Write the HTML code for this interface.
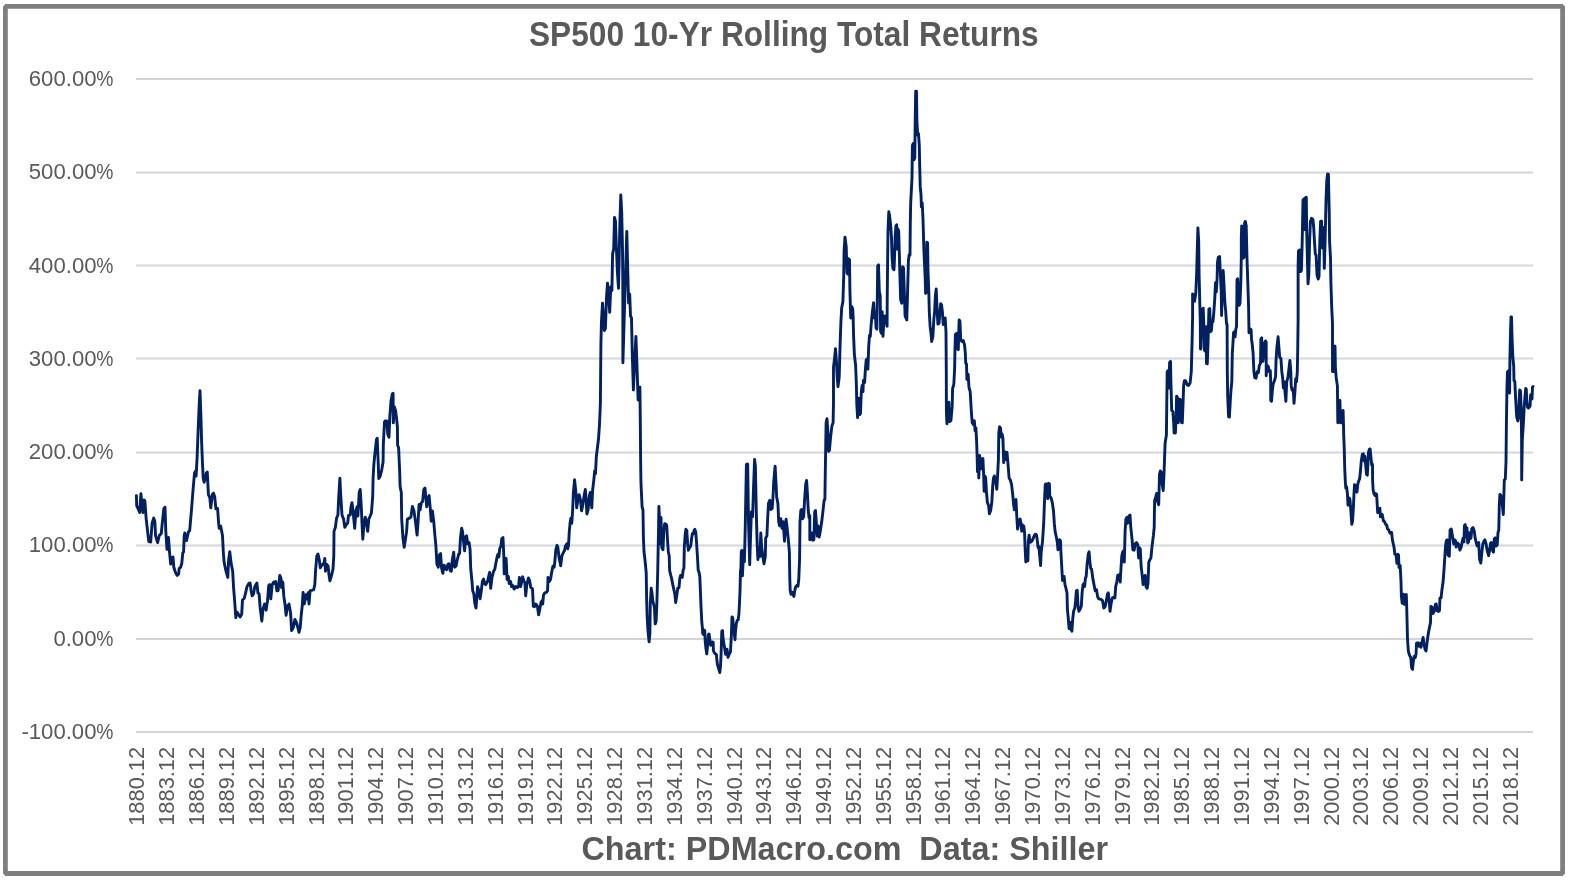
<!DOCTYPE html>
<html><head><meta charset="utf-8"><title>SP500 10-Yr Rolling Total Returns</title>
<style>
html,body{margin:0;padding:0;background:#fff;}
body{width:1571px;height:880px;overflow:hidden;font-family:"Liberation Sans",sans-serif;}
svg{display:block;will-change:transform;}
text{font-family:"Liberation Sans",sans-serif;fill:#595959;}
</style></head><body>
<svg width="1571" height="880" viewBox="0 0 1571 880">
<rect x="0" y="0" width="1571" height="880" fill="#ffffff"/>
<rect x="5.4" y="6.4" width="1557.2" height="867.1" fill="none" stroke="#7f7f7f" stroke-width="4.8" stroke-linejoin="bevel"/>

<g shape-rendering="crispEdges">
<rect x="136" y="78" width="1397" height="2" fill="#d4d4d4"/>
<rect x="136" y="638" width="1397" height="2" fill="#d4d4d4"/>
<rect x="136" y="731" width="1397" height="2" fill="#d4d4d4"/>
<rect x="136" y="171" width="1397" height="3" fill="#e7e9f0"/>
<rect x="136" y="172" width="1397" height="1" fill="#d9d9d9"/>
<rect x="136" y="264" width="1397" height="3" fill="#e7e9f0"/>
<rect x="136" y="265" width="1397" height="1" fill="#d9d9d9"/>
<rect x="136" y="357" width="1397" height="3" fill="#e7e9f0"/>
<rect x="136" y="358" width="1397" height="1" fill="#d9d9d9"/>
<rect x="136" y="451" width="1397" height="3" fill="#e7e9f0"/>
<rect x="136" y="452" width="1397" height="1" fill="#d9d9d9"/>
<rect x="136" y="544" width="1397" height="3" fill="#e7e9f0"/>
<rect x="136" y="545" width="1397" height="1" fill="#d9d9d9"/>
</g>
<g font-size="22.6" text-anchor="end">
<text transform="translate(96.5,86.00) scale(0.98,1)">600.00</text>
<text transform="translate(113.3,86.00) scale(0.854,1)">%</text>
<text transform="translate(96.5,179.29) scale(0.98,1)">500.00</text>
<text transform="translate(113.3,179.29) scale(0.854,1)">%</text>
<text transform="translate(96.5,272.57) scale(0.98,1)">400.00</text>
<text transform="translate(113.3,272.57) scale(0.854,1)">%</text>
<text transform="translate(96.5,365.86) scale(0.98,1)">300.00</text>
<text transform="translate(113.3,365.86) scale(0.854,1)">%</text>
<text transform="translate(96.5,459.14) scale(0.98,1)">200.00</text>
<text transform="translate(113.3,459.14) scale(0.854,1)">%</text>
<text transform="translate(96.5,552.43) scale(0.98,1)">100.00</text>
<text transform="translate(113.3,552.43) scale(0.854,1)">%</text>
<text transform="translate(96.5,645.71) scale(0.98,1)">0.00</text>
<text transform="translate(113.3,645.71) scale(0.854,1)">%</text>
<text transform="translate(96.5,739.00) scale(0.98,1)">-100.00</text>
<text transform="translate(113.3,739.00) scale(0.854,1)">%</text>
</g>
<g font-size="22.6" text-anchor="end">
<text transform="translate(144.40,746.9) rotate(-90) scale(0.966,1)">1880.12</text>
<text transform="translate(174.25,746.9) rotate(-90) scale(0.966,1)">1883.12</text>
<text transform="translate(204.11,746.9) rotate(-90) scale(0.966,1)">1886.12</text>
<text transform="translate(233.97,746.9) rotate(-90) scale(0.966,1)">1889.12</text>
<text transform="translate(263.82,746.9) rotate(-90) scale(0.966,1)">1892.12</text>
<text transform="translate(293.68,746.9) rotate(-90) scale(0.966,1)">1895.12</text>
<text transform="translate(323.53,746.9) rotate(-90) scale(0.966,1)">1898.12</text>
<text transform="translate(353.39,746.9) rotate(-90) scale(0.966,1)">1901.12</text>
<text transform="translate(383.24,746.9) rotate(-90) scale(0.966,1)">1904.12</text>
<text transform="translate(413.09,746.9) rotate(-90) scale(0.966,1)">1907.12</text>
<text transform="translate(442.95,746.9) rotate(-90) scale(0.966,1)">1910.12</text>
<text transform="translate(472.81,746.9) rotate(-90) scale(0.966,1)">1913.12</text>
<text transform="translate(502.66,746.9) rotate(-90) scale(0.966,1)">1916.12</text>
<text transform="translate(532.51,746.9) rotate(-90) scale(0.966,1)">1919.12</text>
<text transform="translate(562.37,746.9) rotate(-90) scale(0.966,1)">1922.12</text>
<text transform="translate(592.22,746.9) rotate(-90) scale(0.966,1)">1925.12</text>
<text transform="translate(622.08,746.9) rotate(-90) scale(0.966,1)">1928.12</text>
<text transform="translate(651.93,746.9) rotate(-90) scale(0.966,1)">1931.12</text>
<text transform="translate(681.79,746.9) rotate(-90) scale(0.966,1)">1934.12</text>
<text transform="translate(711.64,746.9) rotate(-90) scale(0.966,1)">1937.12</text>
<text transform="translate(741.50,746.9) rotate(-90) scale(0.966,1)">1940.12</text>
<text transform="translate(771.36,746.9) rotate(-90) scale(0.966,1)">1943.12</text>
<text transform="translate(801.21,746.9) rotate(-90) scale(0.966,1)">1946.12</text>
<text transform="translate(831.06,746.9) rotate(-90) scale(0.966,1)">1949.12</text>
<text transform="translate(860.92,746.9) rotate(-90) scale(0.966,1)">1952.12</text>
<text transform="translate(890.77,746.9) rotate(-90) scale(0.966,1)">1955.12</text>
<text transform="translate(920.63,746.9) rotate(-90) scale(0.966,1)">1958.12</text>
<text transform="translate(950.49,746.9) rotate(-90) scale(0.966,1)">1961.12</text>
<text transform="translate(980.34,746.9) rotate(-90) scale(0.966,1)">1964.12</text>
<text transform="translate(1010.19,746.9) rotate(-90) scale(0.966,1)">1967.12</text>
<text transform="translate(1040.05,746.9) rotate(-90) scale(0.966,1)">1970.12</text>
<text transform="translate(1069.90,746.9) rotate(-90) scale(0.966,1)">1973.12</text>
<text transform="translate(1099.76,746.9) rotate(-90) scale(0.966,1)">1976.12</text>
<text transform="translate(1129.62,746.9) rotate(-90) scale(0.966,1)">1979.12</text>
<text transform="translate(1159.47,746.9) rotate(-90) scale(0.966,1)">1982.12</text>
<text transform="translate(1189.32,746.9) rotate(-90) scale(0.966,1)">1985.12</text>
<text transform="translate(1219.18,746.9) rotate(-90) scale(0.966,1)">1988.12</text>
<text transform="translate(1249.03,746.9) rotate(-90) scale(0.966,1)">1991.12</text>
<text transform="translate(1278.89,746.9) rotate(-90) scale(0.966,1)">1994.12</text>
<text transform="translate(1308.74,746.9) rotate(-90) scale(0.966,1)">1997.12</text>
<text transform="translate(1338.60,746.9) rotate(-90) scale(0.966,1)">2000.12</text>
<text transform="translate(1368.45,746.9) rotate(-90) scale(0.966,1)">2003.12</text>
<text transform="translate(1398.31,746.9) rotate(-90) scale(0.966,1)">2006.12</text>
<text transform="translate(1428.16,746.9) rotate(-90) scale(0.966,1)">2009.12</text>
<text transform="translate(1458.02,746.9) rotate(-90) scale(0.966,1)">2012.12</text>
<text transform="translate(1487.87,746.9) rotate(-90) scale(0.966,1)">2015.12</text>
<text transform="translate(1517.73,746.9) rotate(-90) scale(0.966,1)">2018.12</text>
</g>
<text transform="translate(529.0,46.0) scale(0.918,1)" font-size="34.5" font-weight="bold">SP500 10-Yr Rolling Total Returns</text>
<text transform="translate(581.5,859.8) scale(0.957,1)" font-size="33.8" font-weight="bold" xml:space="preserve">Chart: PDMacro.com  Data: Shiller</text>
<polyline fill="none" stroke="#002060" stroke-width="2.9" stroke-linejoin="round" stroke-linecap="round" points="136.4,495.6 136.7,505.6 139.7,512.4 140.9,493.7 142.9,512.6 144.2,499.9 144.9,501.1 146.2,519.1 147.6,531.4 148.8,541.6 150.7,542.0 152.1,523.2 153.7,518.1 154.8,521.2 155.6,535.9 157.6,542.6 159.3,535.5 161.3,533.4 162.3,522.8 163.8,508.9 165.0,507.2 165.8,531.4 167.0,549.4 168.5,537.5 169.5,551.8 170.7,564.1 172.1,557.6 173.0,557.0 173.8,567.2 175.4,572.3 177.1,575.4 178.7,573.9 179.1,568.6 180.7,567.2 181.8,563.1 182.8,552.9 183.6,551.8 184.2,535.5 184.8,533.0 186.5,540.6 188.3,532.4 189.7,530.4 191.4,510.9 193.0,490.5 194.5,473.1 195.5,471.0 196.1,476.1 197.1,457.7 198.1,431.1 199.2,404.5 200.0,390.6 200.8,412.7 201.6,441.4 202.4,461.8 203.2,478.2 204.1,482.3 205.3,478.2 206.3,473.1 207.3,472.0 208.4,494.6 209.8,497.6 210.8,507.9 212.3,494.6 213.5,493.1 214.7,496.6 215.9,508.9 217.6,508.5 218.6,523.2 219.2,528.3 220.6,525.9 222.5,535.5 223.3,551.8 224.1,562.1 225.8,570.3 227.8,577.4 228.6,560.0 229.8,551.8 231.1,563.1 232.7,571.3 233.5,586.6 234.8,603.0 235.8,617.7 237.0,612.2 238.4,614.2 240.1,616.9 241.7,614.2 242.5,599.9 244.2,598.5 245.6,592.8 247.0,586.6 248.7,583.6 250.1,582.9 251.1,590.7 252.1,595.8 253.6,593.8 254.8,586.6 256.9,582.9 257.9,592.8 259.1,593.8 260.1,607.1 261.8,621.0 263.0,609.1 264.6,604.0 266.1,610.2 267.5,600.9 268.7,585.6 269.7,584.6 270.8,598.9 272.2,584.6 273.6,582.1 274.5,583.6 275.7,581.5 276.9,590.7 278.1,590.7 279.8,575.4 281.0,578.4 281.6,587.6 282.8,582.1 283.9,596.9 285.1,605.0 286.1,615.3 287.5,606.1 289.0,604.0 290.6,613.2 291.6,630.6 293.3,627.5 294.9,619.4 296.5,622.4 297.8,627.5 299.0,632.3 300.2,627.5 301.0,617.3 302.3,605.0 303.1,592.4 304.3,604.0 306.0,594.8 307.2,598.9 308.2,592.8 309.0,604.0 310.1,590.7 311.7,590.3 313.7,589.7 314.8,584.6 315.6,570.3 316.8,555.9 318.0,553.9 319.3,560.0 320.3,567.8 321.9,565.1 324.0,563.1 324.8,558.4 325.4,571.3 326.8,564.5 328.1,566.2 328.9,574.3 329.9,580.9 331.3,576.4 333.0,569.2 333.8,555.9 334.0,531.4 335.4,527.3 336.6,518.1 337.9,515.0 338.7,497.6 339.9,478.2 340.7,494.6 342.0,515.0 343.6,519.1 344.8,527.3 346.5,524.2 347.7,523.2 348.5,515.4 350.2,515.0 351.0,506.8 352.0,502.7 353.0,510.9 354.7,528.3 355.9,510.9 357.1,506.8 357.9,516.0 359.2,492.5 360.2,489.4 361.2,504.8 362.0,523.2 362.8,539.2 364.1,523.2 365.3,517.1 366.5,523.2 367.7,531.4 368.8,519.1 370.2,516.0 371.4,513.0 372.7,496.6 373.1,478.2 373.9,463.9 375.1,451.6 376.5,439.3 377.2,438.3 378.0,457.7 378.8,478.6 380.2,476.1 381.7,470.0 383.1,461.8 383.3,445.4 384.5,421.9 385.3,420.9 386.2,424.0 386.8,420.9 387.8,434.2 389.0,437.3 389.8,416.8 391.1,400.4 392.3,393.9 393.1,393.3 393.3,422.9 394.3,406.6 395.6,410.7 396.6,418.8 397.4,427.0 397.6,445.4 398.6,447.5 399.7,472.0 400.1,486.4 401.3,492.5 401.7,519.1 402.9,537.5 404.2,547.3 405.4,539.6 406.6,531.4 407.4,519.1 409.5,518.1 410.9,517.1 412.4,506.4 414.0,510.9 415.4,521.2 417.1,535.1 418.1,521.2 419.1,504.4 420.1,509.9 421.4,502.7 422.6,501.7 423.8,489.4 425.0,488.0 426.7,506.8 428.1,497.6 429.1,495.6 430.4,509.9 431.2,521.2 432.4,510.9 433.8,522.2 434.9,535.5 435.9,545.7 436.9,564.1 438.3,567.2 439.4,554.9 440.6,553.5 441.6,568.2 442.9,573.3 444.1,565.1 445.3,567.8 446.5,569.8 447.8,564.5 449.0,563.7 450.2,570.7 451.3,571.3 452.3,560.0 453.7,552.3 454.7,567.2 456.0,566.2 457.2,560.0 458.8,553.9 459.6,553.5 460.5,537.5 461.7,528.3 462.5,531.4 463.3,539.6 464.6,550.8 465.8,536.5 466.6,535.9 467.8,543.7 469.1,542.6 470.1,549.8 470.7,568.2 471.9,580.5 472.7,590.7 473.8,593.8 474.8,603.0 476.0,608.1 476.8,596.9 477.6,586.6 478.9,590.7 480.1,598.9 481.3,590.7 482.4,581.5 483.6,579.1 484.6,583.6 485.8,584.6 487.5,581.5 488.7,576.4 489.7,572.3 490.7,588.3 492.0,577.4 493.6,571.3 494.8,569.2 496.1,562.1 497.3,555.9 498.3,553.9 498.9,557.0 499.7,548.8 501.0,545.7 501.8,538.5 503.0,537.5 503.8,555.9 504.2,573.9 505.1,560.0 506.1,558.4 507.1,579.5 508.3,576.4 509.2,583.6 510.6,581.5 511.6,586.6 512.8,585.6 514.1,589.1 515.7,586.6 517.3,587.6 518.6,586.6 519.4,577.4 520.6,586.6 521.8,581.5 522.7,576.8 523.9,581.5 524.9,582.5 525.7,595.8 526.8,584.6 528.4,578.0 529.6,580.5 530.8,587.6 532.5,588.7 533.3,606.1 534.5,606.7 535.8,604.0 537.4,606.1 538.6,614.9 539.8,609.1 541.1,602.0 541.9,600.9 542.7,604.0 543.5,595.2 544.8,592.8 546.4,592.4 547.6,590.7 548.0,577.4 549.3,581.5 550.5,579.5 551.7,572.3 552.9,566.2 554.2,567.2 555.0,560.0 555.8,549.8 557.0,545.3 557.9,547.3 559.1,558.0 560.7,565.8 561.9,555.9 563.2,552.9 564.4,550.8 565.6,545.7 566.9,543.7 567.7,548.8 568.5,545.7 569.3,531.4 570.1,522.8 570.9,518.1 571.8,523.2 572.6,510.9 573.4,492.5 574.6,479.8 575.9,492.5 576.7,507.9 577.9,499.7 579.1,494.6 580.4,499.7 581.6,510.9 582.8,504.8 584.0,496.6 585.3,489.4 586.1,498.6 586.9,514.0 588.1,509.9 589.4,495.6 590.2,492.5 591.0,500.7 591.8,507.9 592.6,490.5 593.9,479.2 594.7,471.0 595.5,473.6 596.3,457.0 597.4,448.0 598.5,439.0 599.5,424.5 600.4,402.7 600.7,366.0 600.9,345.0 601.4,323.0 602.5,303.2 603.2,312.3 604.3,330.5 605.4,328.6 606.5,297.7 607.5,283.2 608.6,294.1 609.7,312.3 610.8,286.8 611.9,290.5 612.6,254.1 613.7,248.6 614.5,217.4 615.5,221.4 616.3,245.0 617.4,272.3 618.5,288.3 619.2,257.7 619.9,221.4 620.8,195.0 621.7,212.3 622.5,248.6 622.8,283.2 622.9,362.7 626.8,231.4 627.9,276.0 628.6,303.0 629.7,294.0 630.5,316.0 631.5,318.0 632.3,355.0 633.4,390.0 634.5,366.0 635.9,336.4 637.0,366.0 638.1,400.0 638.8,388.0 639.9,387.0 640.3,421.0 640.6,457.0 640.9,480.0 641.3,490.5 642.1,506.8 643.0,509.9 643.4,537.5 644.0,551.8 645.0,560.0 646.2,572.3 646.6,596.9 647.1,615.3 647.9,629.6 649.1,641.9 649.9,633.7 650.3,603.0 651.2,588.3 652.0,592.8 652.8,600.9 653.6,604.0 654.4,607.5 655.2,623.9 656.1,621.4 656.9,603.0 657.7,572.3 658.5,531.4 658.9,506.4 659.7,523.2 660.2,543.7 661.0,517.5 661.8,547.7 663.0,549.8 663.8,531.4 664.7,523.6 665.9,524.2 666.7,525.2 667.5,539.6 668.3,551.8 669.2,555.9 669.6,570.3 670.8,575.4 671.6,578.4 672.8,584.6 674.1,590.7 674.9,594.4 675.7,602.6 676.9,594.8 677.7,588.3 679.0,587.6 679.8,578.4 680.6,575.4 682.3,577.4 683.1,570.3 683.9,568.2 684.3,547.7 685.1,535.1 685.9,529.3 686.8,530.4 687.6,543.7 688.4,550.2 689.6,547.7 690.8,545.7 691.7,537.5 692.5,533.4 693.3,533.8 694.1,530.4 694.9,529.3 695.8,532.4 696.6,543.7 697.4,555.9 698.2,570.3 699.0,571.9 699.8,576.4 700.5,593.6 701.1,608.4 701.8,622.0 702.5,628.9 702.7,633.4 703.4,634.5 704.1,630.0 704.8,630.6 705.2,641.4 705.9,648.2 706.8,653.9 707.7,643.6 708.4,634.5 709.1,634.0 709.8,639.1 710.7,645.3 711.6,644.8 712.5,641.9 713.2,642.3 713.4,650.5 714.3,652.7 715.5,653.9 716.4,654.4 716.8,659.5 717.5,664.7 718.4,667.5 719.8,672.6 720.5,666.4 721.1,653.9 721.8,631.1 722.5,630.6 723.0,638.0 723.9,643.6 724.8,649.3 725.5,654.4 726.1,649.3 727.0,649.1 728.0,657.3 728.9,655.0 730.5,651.6 730.9,643.6 731.4,634.5 732.0,616.9 732.7,617.5 733.6,627.7 735.0,639.7 735.5,631.1 736.4,623.2 737.3,620.3 738.2,619.8 738.9,614.1 739.5,602.7 740.0,591.4 740.5,570.8 740.9,568.8 741.3,551.4 742.0,550.4 742.4,575.9 743.2,560.6 744.4,561.6 745.2,529.9 746.4,464.5 747.7,464.1 748.5,521.8 749.7,564.7 750.5,538.1 751.4,511.6 752.6,516.7 753.4,491.1 754.6,459.4 755.4,466.6 756.3,511.6 757.1,542.2 757.9,559.6 758.7,550.4 759.9,556.5 760.8,533.0 761.6,546.3 762.8,556.5 764.0,563.7 765.3,556.5 765.7,538.1 766.9,536.1 767.7,517.7 768.5,503.4 769.8,500.3 771.0,509.5 772.2,508.5 773.0,497.2 773.8,480.9 775.1,466.2 775.9,480.9 776.7,497.2 777.9,503.4 778.7,521.8 779.6,525.9 780.8,518.7 782.0,528.3 783.2,521.8 784.5,541.2 785.3,529.9 786.1,519.3 786.9,525.9 788.2,538.1 789.4,552.4 789.8,579.0 790.2,590.3 791.0,594.3 792.2,592.3 793.9,596.4 794.7,591.3 795.5,587.2 796.7,585.6 798.0,586.2 798.8,579.0 799.6,558.6 800.0,521.8 800.8,510.5 801.6,509.5 802.5,518.7 803.7,516.7 804.5,501.3 805.7,484.0 806.6,480.5 807.4,493.2 808.2,509.5 809.0,517.7 809.8,515.6 809.8,539.8 811.0,539.1 811.9,533.0 812.7,540.2 813.9,539.8 814.7,511.6 815.5,510.5 816.4,523.8 817.2,536.1 818.0,525.9 819.2,537.1 820.5,529.9 821.7,521.8 822.9,511.6 824.1,500.3 824.9,499.5 825.3,471.8 825.7,447.3 826.1,422.7 827.0,418.6 827.8,430.9 828.6,451.4 829.4,450.4 830.6,437.1 831.9,425.8 833.1,422.7 833.5,402.3 833.5,367.1 834.7,356.9 835.5,348.7 836.4,360.9 837.2,377.3 838.0,386.5 839.2,377.3 840.1,344.6 840.9,322.1 841.7,307.7 842.9,301.6 843.7,277.1 844.1,250.5 845.0,237.2 846.2,246.4 847.0,273.0 847.8,274.0 848.6,258.6 849.5,259.7 849.9,289.3 850.7,318.0 851.9,306.7 852.7,308.8 853.1,315.9 853.6,336.4 854.4,354.8 855.6,365.0 856.4,385.5 856.8,404.3 857.6,417.6 858.9,398.2 859.7,414.6 860.5,413.5 861.3,392.0 862.1,385.5 863.0,391.6 863.4,380.4 864.6,382.4 865.4,369.1 866.2,359.9 867.1,358.9 867.9,369.1 868.7,346.6 869.5,335.4 870.3,336.4 871.2,324.1 872.4,311.8 873.6,302.6 874.4,318.0 875.2,311.8 876.1,328.2 876.9,329.2 877.7,265.8 878.5,264.8 879.3,291.4 880.2,295.5 880.6,331.3 881.4,333.3 882.2,311.8 883.0,336.4 883.8,322.1 885.1,315.9 885.9,320.0 887.1,326.2 887.2,301.6 887.5,271.8 888.0,230.9 888.8,211.8 889.6,215.9 890.7,225.5 891.5,237.7 892.1,258.2 892.9,268.4 894.0,269.8 894.5,258.2 895.1,237.7 895.9,226.1 896.7,224.8 897.2,249.0 897.9,229.0 898.7,231.0 899.8,270.9 900.6,299.6 901.8,303.2 902.7,266.8 903.5,267.9 904.3,291.0 905.1,315.9 906.8,320.0 907.6,291.4 908.4,260.7 909.2,254.6 910.0,255.0 910.3,223.2 910.7,202.8 912.0,178.2 912.4,145.5 913.2,143.4 914.0,159.8 914.8,157.7 915.2,120.9 915.7,91.3 916.5,91.3 916.9,120.9 917.7,135.2 918.5,133.6 919.3,145.5 919.7,165.9 920.2,186.4 921.0,194.6 921.4,206.9 922.2,202.8 923.0,219.1 923.9,250.5 925.2,278.1 925.6,293.4 926.4,292.4 926.8,242.3 927.6,242.7 928.0,270.9 928.8,291.4 929.3,311.8 930.1,326.2 930.9,332.3 931.7,341.5 932.9,336.4 933.8,320.0 934.6,311.8 935.4,295.5 936.2,288.9 937.0,307.7 937.9,324.1 939.1,323.1 939.9,311.8 940.7,303.7 941.5,304.7 942.4,311.8 943.2,324.5 944.0,318.4 945.2,318.0 946.0,332.3 946.3,373.2 946.4,410.5 946.9,423.8 948.1,410.5 948.9,402.3 949.7,421.7 950.9,420.7 952.2,406.4 952.6,388.6 953.8,384.5 954.6,369.1 955.0,348.7 955.4,334.3 956.7,333.3 957.5,348.7 958.3,349.7 959.1,320.0 959.9,321.0 960.8,340.5 962.0,341.5 963.2,340.5 964.5,344.6 965.3,352.8 965.7,363.0 966.5,364.0 966.9,379.4 968.1,374.2 969.0,387.5 970.2,391.6 971.0,406.0 971.4,412.5 972.2,422.7 973.5,424.8 974.3,420.7 975.1,430.9 975.9,427.9 976.7,443.2 977.1,455.5 977.5,471.8 978.4,457.5 978.8,478.0 979.6,455.5 980.4,459.6 981.2,468.8 982.0,460.6 982.9,458.5 983.7,475.9 984.1,491.3 984.9,475.9 985.7,478.0 986.5,492.3 987.4,502.5 988.6,505.6 989.4,513.8 990.6,510.7 991.9,501.5 992.7,486.2 993.5,478.0 994.3,475.9 995.5,480.0 996.8,489.2 997.6,475.9 998.4,459.6 998.8,433.0 999.6,426.8 1000.5,427.9 1001.3,437.1 1002.1,434.0 1002.9,438.1 1003.7,462.6 1004.6,451.4 1005.4,459.6 1006.2,453.4 1007.0,452.4 1007.8,461.6 1009.1,478.0 1010.3,480.0 1011.5,484.1 1012.7,494.3 1013.6,504.6 1014.4,509.7 1015.2,500.5 1016.0,499.5 1016.8,516.9 1017.6,529.1 1018.9,520.9 1020.1,518.9 1020.9,523.0 1021.7,531.2 1022.6,525.0 1023.8,526.1 1024.6,533.2 1025.0,545.5 1025.8,561.9 1027.1,559.8 1027.9,560.8 1028.3,541.4 1029.1,535.3 1030.3,542.4 1031.6,541.4 1032.8,539.4 1034.0,536.3 1035.2,534.2 1036.5,534.9 1037.3,540.4 1038.1,547.5 1038.9,546.5 1039.7,555.7 1040.6,565.5 1041.2,551.8 1042.5,541.6 1043.7,523.2 1044.5,500.7 1045.3,484.3 1046.1,483.9 1047.0,496.6 1047.8,498.6 1048.6,483.3 1049.4,483.9 1049.8,496.6 1051.0,497.6 1052.3,502.7 1053.5,510.9 1054.3,523.2 1055.1,531.4 1056.4,537.5 1057.2,541.6 1058.0,549.8 1058.8,545.7 1059.6,539.6 1060.5,540.6 1060.9,551.8 1061.7,566.2 1062.5,580.5 1063.3,576.4 1064.1,576.4 1065.0,584.6 1065.8,587.6 1067.0,592.8 1067.4,609.1 1068.2,617.3 1069.1,628.6 1070.3,622.4 1071.1,629.6 1071.9,631.2 1072.7,619.4 1073.6,611.2 1074.8,608.1 1075.6,600.9 1076.4,590.7 1077.2,590.3 1078.1,607.1 1078.9,611.2 1080.1,609.1 1081.3,606.1 1082.1,592.8 1083.0,584.6 1083.8,583.6 1084.6,586.6 1085.4,578.4 1086.2,576.4 1087.1,564.1 1088.3,553.9 1089.1,551.8 1089.9,562.1 1090.7,568.2 1091.6,569.2 1092.8,578.4 1094.0,584.6 1095.2,590.7 1096.5,589.7 1097.7,596.9 1098.9,598.9 1101.0,599.3 1102.6,600.9 1103.8,608.1 1105.1,606.7 1106.3,600.9 1107.5,593.8 1108.3,592.8 1109.2,600.9 1110.0,611.2 1111.2,603.0 1112.4,597.9 1113.7,597.3 1114.9,597.9 1115.7,586.6 1116.9,581.5 1117.7,575.4 1119.0,574.8 1120.2,582.1 1121.0,568.2 1121.8,555.9 1122.7,551.8 1123.5,550.8 1124.3,562.1 1125.1,531.4 1125.9,519.1 1126.8,517.5 1127.6,523.2 1128.8,516.0 1130.0,515.0 1130.8,527.3 1132.1,539.6 1132.9,549.8 1134.1,550.2 1135.3,543.7 1136.6,542.6 1137.8,544.7 1138.6,558.0 1139.4,547.7 1140.3,548.8 1141.1,566.2 1142.3,576.4 1143.1,584.6 1144.3,576.4 1145.2,575.4 1146.0,586.6 1147.2,588.3 1148.0,583.6 1148.8,562.1 1149.7,560.0 1150.9,558.0 1152.1,545.7 1153.4,535.5 1154.2,527.3 1154.6,500.7 1155.8,496.6 1156.6,493.5 1157.4,500.7 1158.7,504.8 1159.5,474.1 1160.3,471.0 1161.1,472.0 1161.9,482.3 1163.2,490.5 1164.0,474.1 1165.1,443.2 1166.4,435.0 1166.8,402.3 1167.2,371.6 1168.0,370.6 1168.8,388.0 1169.6,362.4 1170.5,361.4 1170.9,381.8 1171.7,410.5 1172.9,411.5 1173.7,422.8 1174.1,433.0 1175.4,433.0 1176.2,414.6 1176.6,396.2 1177.4,397.2 1178.2,422.8 1179.1,414.6 1179.9,399.2 1180.7,400.3 1181.5,422.4 1182.3,422.8 1183.1,402.3 1183.6,385.9 1184.4,380.8 1185.6,380.8 1187.2,384.9 1188.5,385.5 1190.1,382.9 1191.3,371.6 1192.1,340.9 1192.6,316.4 1192.6,294.0 1193.8,295.0 1194.6,301.2 1195.8,293.0 1196.6,274.6 1197.5,241.8 1197.9,227.9 1198.7,241.8 1199.1,274.6 1199.9,307.3 1200.3,320.5 1200.5,349.1 1200.9,348.1 1201.4,330.7 1202.4,309.2 1203.2,308.2 1204.0,328.6 1204.4,350.1 1205.2,351.2 1206.1,326.6 1206.5,363.4 1207.3,363.8 1208.1,340.9 1208.9,309.2 1209.7,308.6 1210.6,331.7 1211.4,330.7 1212.2,320.5 1213.0,321.5 1213.8,312.3 1214.7,300.0 1215.5,282.8 1216.3,292.0 1217.1,278.7 1217.5,262.3 1218.3,257.2 1219.6,256.6 1220.4,274.6 1221.2,290.9 1221.6,315.5 1222.4,282.8 1223.2,270.5 1224.1,286.9 1224.9,303.2 1225.7,311.4 1226.5,323.7 1227.1,324.6 1227.3,371.6 1227.7,396.2 1228.6,416.6 1229.4,417.0 1230.2,402.3 1231.0,390.0 1231.8,381.8 1232.3,353.2 1233.1,340.9 1233.5,332.7 1234.3,331.7 1235.1,336.8 1235.9,328.6 1236.5,326.6 1236.8,303.2 1237.0,279.7 1237.6,278.7 1238.4,290.9 1239.2,305.3 1240.0,303.2 1240.8,282.8 1241.3,258.2 1241.3,237.7 1241.7,225.9 1242.5,227.5 1243.3,258.2 1244.1,257.2 1244.5,223.4 1245.3,221.4 1246.2,225.5 1247.0,258.2 1247.8,282.8 1248.6,307.3 1249.0,332.7 1249.8,328.6 1251.1,329.7 1251.5,338.9 1252.3,345.0 1253.1,353.2 1253.9,371.6 1254.8,377.7 1256.0,378.2 1257.2,371.6 1258.4,372.6 1259.3,365.5 1260.5,363.4 1260.9,338.9 1261.7,337.9 1262.1,360.4 1262.9,361.4 1263.8,353.2 1264.6,343.0 1265.4,340.9 1266.2,341.9 1266.2,375.7 1267.0,365.5 1268.3,366.5 1269.1,371.6 1270.3,370.6 1270.7,381.8 1270.7,400.3 1271.5,401.3 1272.4,390.0 1273.2,383.9 1274.4,380.8 1275.6,376.7 1276.0,361.4 1276.9,347.1 1278.1,336.8 1278.9,347.1 1279.7,357.3 1280.9,358.3 1281.8,371.6 1282.6,377.7 1283.4,388.0 1284.2,381.8 1285.0,392.1 1285.9,401.3 1286.7,381.8 1287.9,377.7 1289.1,367.5 1289.9,360.4 1290.8,371.6 1291.2,385.9 1292.0,390.0 1293.2,389.0 1294.0,403.3 1294.9,392.1 1295.7,378.8 1296.5,381.8 1297.3,371.6 1297.7,351.2 1298.1,320.5 1298.1,266.4 1298.5,251.0 1299.8,250.0 1300.6,271.5 1301.4,270.5 1302.2,241.8 1303.0,199.9 1303.9,198.9 1304.3,229.6 1305.1,197.9 1306.3,197.2 1306.7,231.6 1307.5,262.3 1308.0,283.8 1308.8,274.6 1309.6,241.8 1310.4,221.4 1311.6,218.3 1312.9,219.3 1313.7,227.5 1314.5,241.8 1315.3,254.1 1316.1,255.1 1317.0,274.6 1318.2,279.1 1319.0,276.6 1319.8,241.8 1320.6,221.4 1321.5,221.0 1322.3,248.0 1323.1,227.5 1323.9,245.9 1324.3,268.4 1325.1,241.8 1326.0,200.9 1326.8,180.5 1327.6,173.9 1328.4,174.3 1329.2,211.2 1329.6,241.8 1330.5,258.2 1330.9,282.8 1331.7,307.3 1332.5,323.7 1332.5,371.6 1333.7,371.6 1334.1,347.1 1335.0,346.0 1335.4,367.5 1336.2,377.7 1337.4,385.9 1337.8,422.8 1338.6,422.4 1339.1,401.3 1339.9,400.3 1340.3,414.6 1341.1,422.8 1342.3,411.5 1343.1,410.5 1343.6,428.9 1343.6,432.3 1344.2,447.3 1344.7,467.7 1345.3,481.3 1345.8,488.1 1346.6,486.8 1347.4,493.6 1348.0,505.2 1348.8,497.7 1349.9,499.0 1350.7,508.6 1351.8,524.3 1352.6,520.9 1353.4,507.2 1354.0,493.6 1354.5,484.7 1355.3,485.4 1356.2,488.1 1357.0,492.2 1357.8,484.1 1358.6,481.3 1359.7,478.6 1360.5,470.4 1361.3,460.9 1362.4,454.1 1363.3,453.8 1364.1,460.9 1364.9,456.1 1365.7,465.0 1366.5,474.5 1367.3,475.2 1367.9,465.0 1368.4,452.7 1369.3,449.3 1370.1,448.9 1370.9,456.8 1371.7,465.0 1372.5,464.3 1372.6,480.0 1373.1,489.5 1373.9,493.6 1375.0,495.6 1375.8,493.6 1376.6,494.3 1377.2,504.5 1377.7,512.7 1378.8,508.6 1379.9,508.3 1380.4,516.8 1381.5,514.0 1382.3,514.7 1383.4,520.9 1384.5,521.5 1385.6,524.3 1386.7,524.9 1387.5,529.0 1388.6,529.7 1390.0,533.1 1391.6,532.4 1392.4,539.9 1394.0,547.1 1394.9,554.2 1396.1,554.8 1396.9,563.4 1397.7,554.2 1398.5,554.8 1399.0,567.5 1400.2,565.5 1401.0,581.8 1401.4,596.2 1402.2,603.3 1403.5,594.1 1404.3,604.3 1405.1,595.1 1406.3,594.5 1406.7,606.4 1407.1,622.8 1407.5,639.1 1408.4,651.4 1409.6,655.5 1410.8,657.5 1411.6,667.8 1412.5,669.4 1413.3,661.6 1414.1,656.5 1415.3,657.5 1416.1,653.5 1416.5,643.2 1417.8,642.8 1419.0,646.3 1420.2,643.2 1421.0,647.3 1422.3,641.2 1423.1,637.5 1423.9,643.2 1425.1,649.4 1426.0,651.0 1427.2,641.2 1428.4,633.0 1429.6,626.9 1430.5,622.8 1430.9,606.4 1432.1,607.4 1432.9,613.6 1434.1,611.5 1435.4,604.3 1436.2,603.9 1437.0,610.5 1438.2,611.5 1439.5,610.5 1439.9,598.2 1441.1,597.8 1441.9,590.0 1443.1,581.8 1444.0,569.6 1444.8,557.3 1445.6,545.0 1446.4,540.5 1447.2,539.9 1448.1,555.2 1449.3,556.3 1450.1,529.7 1451.3,529.1 1452.6,536.8 1453.8,544.0 1454.6,539.9 1455.4,540.5 1456.2,547.1 1457.5,543.0 1458.7,544.0 1459.9,550.1 1461.2,547.1 1462.4,540.9 1463.2,537.9 1464.0,541.9 1464.4,525.6 1465.2,524.6 1466.1,536.8 1466.9,527.6 1467.7,543.0 1468.5,541.9 1469.3,532.7 1470.2,538.9 1471.0,537.9 1471.8,528.6 1473.0,527.6 1474.2,530.7 1475.1,537.9 1476.3,543.0 1477.1,546.0 1477.9,543.0 1478.7,542.6 1479.6,559.3 1480.8,563.0 1481.6,555.2 1482.8,544.0 1484.1,540.9 1484.9,539.9 1486.1,544.0 1487.3,551.2 1488.6,555.7 1489.8,549.1 1490.6,543.0 1491.4,542.6 1492.7,551.2 1493.5,552.2 1494.3,538.9 1495.1,537.9 1495.9,546.0 1497.2,545.0 1498.0,532.7 1498.8,529.7 1499.3,505.0 1499.9,494.5 1500.8,495.0 1502.0,502.0 1503.3,514.5 1503.9,495.0 1504.3,480.0 1505.3,479.0 1506.0,462.0 1506.4,425.0 1507.0,385.0 1507.5,372.0 1508.3,371.0 1508.8,392.0 1509.6,393.0 1509.9,360.0 1510.5,332.0 1511.0,317.0 1511.5,317.0 1512.1,339.0 1512.9,358.0 1513.7,366.0 1514.0,380.7 1514.8,381.4 1515.4,393.6 1516.2,408.6 1516.7,416.8 1517.8,421.0 1518.6,416.8 1519.2,400.5 1519.7,390.0 1520.5,391.0 1521.1,407.0 1521.6,440.0 1521.7,480.0 1522.3,440.0 1523.3,425.0 1524.1,408.6 1524.9,397.7 1525.7,388.5 1526.3,389.0 1526.8,400.5 1527.6,407.3 1528.5,408.0 1529.3,407.0 1530.1,406.0 1530.6,395.0 1531.5,394.3 1532.0,399.0 1532.5,387.0 1533.1,386.5"/>
</svg></body></html>
